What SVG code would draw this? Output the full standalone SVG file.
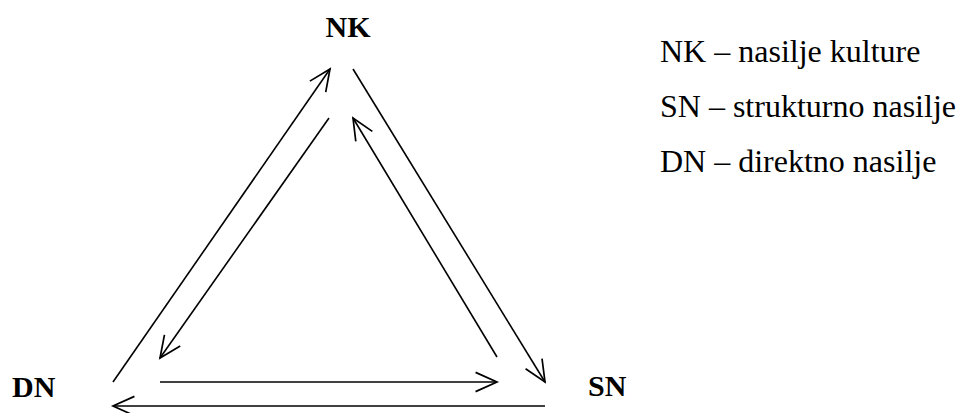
<svg xmlns="http://www.w3.org/2000/svg" width="960" height="413" viewBox="0 0 960 413">
<style>
.lbl{font-family:"Liberation Serif",serif;font-weight:bold;font-size:30px;fill:#000}
.leg{font-family:"Liberation Serif",serif;font-size:32px;fill:#000}
.c line{stroke:#000;stroke-width:1.6;fill:none;marker-end:url(#ah)}
</style>
<defs>
<marker id="ah" markerUnits="userSpaceOnUse" markerWidth="30" markerHeight="30" viewBox="-24 -12 28 24" refX="0" refY="0" orient="auto">
<path d="M-20,-9 L0,0 L-20,9" fill="none" stroke="#000" stroke-width="1.6"/>
</marker>
</defs>
<g id="NK"><text class="lbl" x="348" y="37" text-anchor="middle">NK</text></g>
<g id="DN"><text class="lbl" x="12" y="397">DN</text></g>
<g id="SN"><text class="lbl" x="588" y="396">SN</text></g>
<g id="legend">
<text class="leg" x="660" y="62">NK – nasilje kulture</text>
<text class="leg" x="660" y="117">SN – strukturno nasilje</text>
<text class="leg" x="660" y="172">DN – direktno nasilje</text>
</g>
<g class="c" id="connectors">
<line x1="113" y1="382" x2="330" y2="69"/>
<line x1="329" y1="118" x2="160" y2="358"/>
<line x1="497" y1="357" x2="353" y2="118"/>
<line x1="353" y1="69" x2="545" y2="382"/>
<line x1="160" y1="382" x2="497" y2="382"/>
<line x1="545" y1="406" x2="113" y2="406"/>
</g>
</svg>
